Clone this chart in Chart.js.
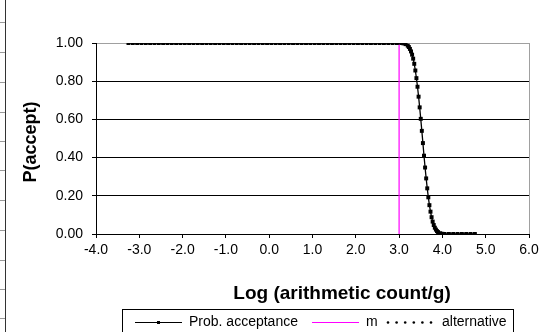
<!DOCTYPE html>
<html>
<head>
<meta charset="utf-8">
<script src="https://cdn.jsdelivr.net/npm/chart.js@4/dist/chart.umd.min.js"></script>
<style>
  html, body { margin: 0; padding: 0; background: #fff; }
  #wrap { width: 547px; height: 332px; position: relative; }
</style>
</head>
<body>
<div id="wrap"><canvas id="occ" width="547" height="332"></canvas></div>
<script>
// operating characteristic curve: P(accept) against log count
var acceptX = [
  -3.25, -3.15, -3.05, -2.95, -2.85, -2.75, -2.65, -2.55, -2.45, -2.35,
  -2.25, -2.15, -2.05, -1.95, -1.85, -1.75, -1.65, -1.55, -1.45, -1.35,
  -1.25, -1.15, -1.05, -0.95, -0.85, -0.75, -0.65, -0.55, -0.45, -0.35,
  -0.25, -0.15, -0.05, 0.05, 0.15, 0.25, 0.35, 0.45, 0.55, 0.65,
  0.75, 0.85, 0.95, 1.05, 1.15, 1.25, 1.35, 1.45, 1.55, 1.65,
  1.75, 1.85, 1.95, 2.05, 2.15, 2.25, 2.35, 2.45, 2.55, 2.65,
  2.75, 2.85, 2.95, 3.05,
  3.10, 3.15, 3.20, 3.225, 3.25, 3.275, 3.30, 3.325, 3.35, 3.375,
  3.40, 3.425, 3.45, 3.475, 3.50, 3.525, 3.55, 3.575, 3.60, 3.625,
  3.65, 3.675, 3.70, 3.725, 3.75, 3.775, 3.80, 3.825, 3.85, 3.875,
  3.90, 3.95, 4.00,
  4.05, 4.15, 4.25, 4.35, 4.45, 4.55, 4.65, 4.75
];
var acceptP = [
  1, 1, 1, 1, 1, 1, 1, 1, 1, 1,
  1, 1, 1, 1, 1, 1, 1, 1, 1, 1,
  1, 1, 1, 1, 1, 1, 1, 1, 1, 1,
  1, 1, 1, 1, 1, 1, 1, 1, 1, 1,
  1, 1, 1, 1, 1, 1, 1, 1, 1, 1,
  1, 1, 1, 1, 1, 1, 1, 1, 1, 1,
  1, 1, 1, 1,
  0.998, 0.994, 0.986, 0.979, 0.969, 0.956, 0.939, 0.918, 0.891, 0.856,
  0.816, 0.771, 0.719, 0.663, 0.603, 0.540, 0.476, 0.410, 0.348, 0.291,
  0.239, 0.192, 0.151, 0.117, 0.088, 0.065, 0.047, 0.033, 0.023, 0.015,
  0.010, 0.004, 0.001,
  0, 0, 0, 0, 0, 0, 0, 0
];
// limit m
var mX = [3.0, 3.0];
var mP = [0, 1];

var xTicks = [-4, -3, -2, -1, 0, 1, 2, 3, 4, 5, 6];
var yTicks = [0, 0.2, 0.4, 0.6, 0.8, 1.0];

function toPoints(xs, ys) {
  var pts = [];
  for (let i = 0; i < xs.length; i++) {
    pts.push({ x: xs[i], y: ys[i] });
  }
  return pts;
}

var FONT = "'Liberation Sans', Arial, sans-serif";

// sheet edge, axis titles and the boxed legend
var extras = {
  id: "extras",
  beforeDraw: function (chart) {
    var c = chart.ctx;
    c.save();
    c.fillStyle = "#fff";
    c.fillRect(0, 0, chart.width, chart.height);
    c.strokeStyle = "#9a9a9a";
    c.lineWidth = 1;
    var rows = [22, 52, 82, 112, 141, 170, 200, 230, 260, 289, 318];
    for (let i = 0; i < rows.length; i++) {
      c.beginPath();
      c.moveTo(0, rows[i] + 0.5);
      c.lineTo(5, rows[i] + 0.5);
      c.stroke();
    }
    c.strokeStyle = "#333";
    c.beginPath();
    c.moveTo(5.5, 0);
    c.lineTo(5.5, chart.height);
    c.stroke();
    c.restore();
  },
  afterDraw: function (chart) {
    var c = chart.ctx;
    c.save();
    c.fillStyle = "#000";
    c.font = "bold 19px " + FONT;
    c.textAlign = "center";
    c.textBaseline = "middle";
    c.fillText("Log (arithmetic count/g)", 342, 294);

    c.font = "bold 18px " + FONT;
    c.translate(31, 142);
    c.rotate(-Math.PI / 2);
    c.fillText("P(accept)", 0, 0);
    c.restore();

    // legend box
    c.save();
    c.strokeStyle = "#000";
    c.lineWidth = 1;
    c.strokeRect(122.5, 309.5, 391, 40);
    c.font = "14px " + FONT;
    c.textBaseline = "middle";
    c.fillStyle = "#000";
    var ly = 322.5;
    var items = [
      { ds: chart.data.datasets[0], x0: 135, x1: 182, tx: 189 },
      { ds: chart.data.datasets[1], x0: 312, x1: 359, tx: 366 },
      { ds: chart.data.datasets[2], x0: 388, x1: 432, tx: 442 }
    ];
    for (let i = 0; i < items.length; i++) {
      var it = items[i];
      c.strokeStyle = it.ds.borderColor;
      c.lineWidth = 1.2;
      if (it.ds.label === "alternative") {
        c.fillStyle = it.ds.borderColor;
        for (let k = 0; k < 6; k++) {
          c.beginPath();
          c.arc(it.x0 + k * 8.6, ly, 1.3, 0, Math.PI * 2);
          c.fill();
        }
      } else {
        c.beginPath();
        c.moveTo(it.x0, ly);
        c.lineTo(it.x1, ly);
        c.stroke();
        if (it.ds.pointRadius > 0) {
          c.fillStyle = it.ds.borderColor;
          c.fillRect((it.x0 + it.x1) / 2 - 1.5, ly - 1.5, 3, 3);
        }
      }
      c.fillStyle = "#000";
      c.fillText(it.ds.label, it.tx, ly);
    }
    c.restore();
  }
};

var ctx0 = document.getElementById("occ");
var myChart = new Chart(ctx0, {
  type: "scatter",
  data: {
    datasets: [
      {
        label: "Prob. acceptance",
        data: toPoints(acceptX, acceptP),
        showLine: true,
        borderColor: "#000",
        backgroundColor: "#000",
        borderWidth: 1.3,
        pointStyle: "rect",
        pointRadius: 2.8,
        pointBorderWidth: 0,
        tension: 0
      },
      {
        label: "m",
        data: toPoints(mX, mP),
        showLine: true,
        borderColor: "#ff00ff",
        borderWidth: 1.2,
        pointRadius: 0
      },
      {
        label: "alternative",
        data: [],
        showLine: true,
        borderColor: "#000",
        borderWidth: 1.5,
        borderDash: [1.5, 6],
        pointRadius: 0
      }
    ]
  },
  options: {
    responsive: false,
    animation: false,
    devicePixelRatio: 1,
    layout: { padding: { top: 43, right: 18, left: 0, bottom: 0 } },
    plugins: {
      legend: { display: false },
      tooltip: { enabled: false }
    },
    scales: {
      x: {
        type: "linear",
        min: -4,
        max: 6,
        afterBuildTicks: function (scale) {
          scale.ticks = xTicks.map(function (v) { return { value: v }; });
        },
        afterFit: function (scale) { scale.height = 98; },
        border: { color: "#000", width: 1 },
        grid: {
          color: function (c) { return c.tick && c.tick.value === 6 ? "#a0a0a0" : "rgba(0,0,0,0)"; },
          tickColor: "#000",
          tickLength: 4
        },
        ticks: {
          color: "#000",
          font: { family: FONT, size: 14 },
          padding: 4,
          maxRotation: 0,
          autoSkip: false,
          callback: function (v) { return Number(v).toFixed(1); }
        }
      },
      y: {
        type: "linear",
        min: 0,
        max: 1,
        afterBuildTicks: function (scale) {
          scale.ticks = yTicks.map(function (v) { return { value: v }; });
        },
        afterFit: function (scale) { scale.width = 96; },
        border: { color: "#000", width: 1 },
        grid: {
          color: function (c) { return c.tick && Math.abs(c.tick.value - 1) < 1e-9 ? "#a0a0a0" : "#000"; },
          tickColor: "#000",
          tickLength: 4
        },
        ticks: {
          color: "#000",
          font: { family: FONT, size: 14 },
          padding: 9,
          callback: function (v) { return Number(v).toFixed(2); }
        }
      }
    }
  },
  plugins: [extras]
});
</script>
</body>
</html>
